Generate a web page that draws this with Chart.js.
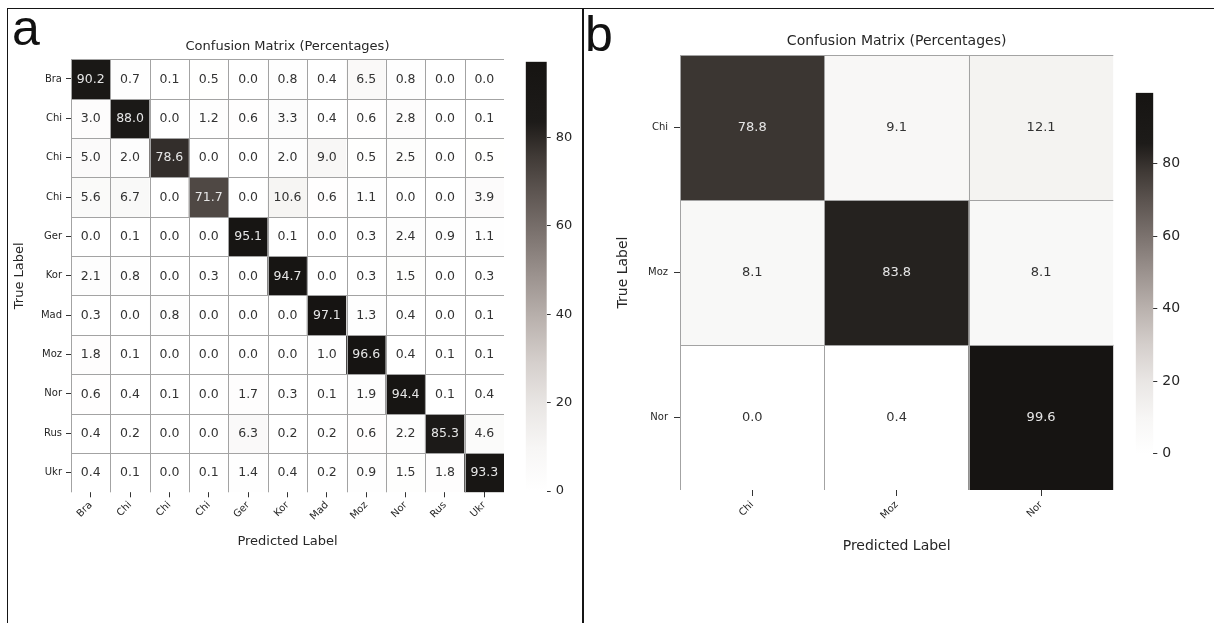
<!DOCTYPE html>
<html>
<head>
<meta charset="utf-8">
<script src="https://cdn.jsdelivr.net/npm/chart.js@4.4.1/dist/chart.umd.min.js"></script>
<style>
  html, body { margin: 0; padding: 0; background: #fff; }
  #page { position: relative; width: 1214px; height: 623px; overflow: hidden; background: #fff; }
  #page canvas { position: absolute; top: 0; }
  .rule { position: absolute; background: #151515; }
  .tag { position: absolute; font-family: 'Liberation Sans', Arial, sans-serif; font-size: 50px; line-height: 50px; color: #111; }
</style>
</head>
<body>
<div id="page">
  <div class="rule" style="left:6.5px; top:7.5px; width:1208px; height:1.5px"></div>
  <div class="rule" style="left:6.5px; top:7.5px; width:1.5px; height:616px"></div>
  <div class="rule" style="left:582px; top:7.5px; width:1.5px; height:616px"></div>
  <div class="tag" style="left:12px; top:3px">a</div>
  <div class="tag" style="left:585px; top:9px">b</div>
  <canvas id="heatA" width="520" height="623" style="left:0px"></canvas>
  <canvas id="barA" width="60" height="623" style="left:520px"></canvas>
  <canvas id="heatB" width="545" height="623" style="left:583px"></canvas>
  <canvas id="barB" width="86" height="623" style="left:1128px"></canvas>
</div>
<script>
// ---- Panel a: 11-class confusion matrix (row = true class, column = predicted class, %)
const classesA = ['Bra', 'Chi', 'Chi', 'Chi', 'Ger', 'Kor', 'Mad', 'Moz', 'Nor', 'Rus', 'Ukr'];
const rowBra  = [90.2, 0.7, 0.1, 0.5, 0.0, 0.8, 0.4, 6.5, 0.8, 0.0, 0.0];
const rowChi1 = [3.0, 88.0, 0.0, 1.2, 0.6, 3.3, 0.4, 0.6, 2.8, 0.0, 0.1];
const rowChi2 = [5.0, 2.0, 78.6, 0.0, 0.0, 2.0, 9.0, 0.5, 2.5, 0.0, 0.5];
const rowChi3 = [5.6, 6.7, 0.0, 71.7, 0.0, 10.6, 0.6, 1.1, 0.0, 0.0, 3.9];
const rowGer  = [0.0, 0.1, 0.0, 0.0, 95.1, 0.1, 0.0, 0.3, 2.4, 0.9, 1.1];
const rowKor  = [2.1, 0.8, 0.0, 0.3, 0.0, 94.7, 0.0, 0.3, 1.5, 0.0, 0.3];
const rowMad  = [0.3, 0.0, 0.8, 0.0, 0.0, 0.0, 97.1, 1.3, 0.4, 0.0, 0.1];
const rowMoz  = [1.8, 0.1, 0.0, 0.0, 0.0, 0.0, 1.0, 96.6, 0.4, 0.1, 0.1];
const rowNor  = [0.6, 0.4, 0.1, 0.0, 1.7, 0.3, 0.1, 1.9, 94.4, 0.1, 0.4];
const rowRus  = [0.4, 0.2, 0.0, 0.0, 6.3, 0.2, 0.2, 0.6, 2.2, 85.3, 4.6];
const rowUkr  = [0.4, 0.1, 0.0, 0.1, 1.4, 0.4, 0.2, 0.9, 1.5, 1.8, 93.3];
const matrixA = [rowBra, rowChi1, rowChi2, rowChi3, rowGer, rowKor, rowMad, rowMoz, rowNor, rowRus, rowUkr];

// ---- Panel b: 3-class confusion matrix
const classesB = ['Chi', 'Moz', 'Nor'];
const rowChiB = [78.8, 9.1, 12.1];
const rowMozB = [8.1, 83.8, 8.1];
const rowNorB = [0.0, 0.4, 99.6];
const matrixB = [rowChiB, rowMozB, rowNorB];

// Colour bar tick values
const colorbarTicks = [0, 20, 40, 60, 80];

const chartTitle = 'Confusion Matrix (Percentages)';
const xTitle = 'Predicted Label';
const yTitle = 'True Label';

// Warm grey colour map: white at 0, near-black at the maximum
const cmapStops = [
  [0.00, [255, 255, 255]],
  [0.10, [247, 246, 245]],
  [0.20, [233, 230, 228]],
  [0.30, [213, 207, 204]],
  [0.40, [186, 178, 174]],
  [0.50, [156, 147, 143]],
  [0.60, [124, 115, 111]],
  [0.70, [92, 84, 80]],
  [0.78, [64, 58, 54]],
  [0.83, [42, 38, 35]],
  [0.86, [29, 27, 25]],
  [1.00, [22, 20, 18]]
];

function cmapRGB(t) {
  t = Math.max(0, Math.min(1, t));
  for (let i = 1; i < cmapStops.length; i++) {
    const [t1, c1] = cmapStops[i];
    const [t0, c0] = cmapStops[i - 1];
    if (t <= t1) {
      const f = (t - t0) / (t1 - t0);
      return c0.map((v, k) => Math.round(v + (c1[k] - v) * f));
    }
  }
  return cmapStops[cmapStops.length - 1][1];
}
const rgbStr = c => `rgb(${c[0]},${c[1]},${c[2]})`;

Chart.defaults.font.family = "'DejaVu Sans', sans-serif";
Chart.defaults.color = '#262626';

// Draws cell separators and the value annotation in each cell
const cellPlugin = {
  id: 'cellAnnotations',
  afterDatasetsDraw(chart, args, opts) {
    const { ctx, chartArea: area, scales: { y } } = chart;
    ctx.save();
    ctx.strokeStyle = opts.lineColor;
    ctx.lineWidth = 1;
    ctx.beginPath();
    chart.getDatasetMeta(0).data.forEach(bar => {
      const px = Math.round(bar.x - bar.width / 2) + 0.5;
      ctx.moveTo(px, area.top);
      ctx.lineTo(px, area.bottom);
    });
    chart.data.datasets.forEach((ds, r) => {
      const py = Math.round(y.getPixelForValue(r)) + 0.5;
      ctx.moveTo(area.left, py);
      ctx.lineTo(area.right, py);
    });
    ctx.stroke();

    ctx.font = `${opts.fontSize}px 'DejaVu Sans', sans-serif`;
    ctx.textAlign = 'center';
    ctx.textBaseline = 'middle';
    chart.data.datasets.forEach((ds, r) => {
      chart.getDatasetMeta(r).data.forEach((bar, c) => {
        const v = ds.values[c];
        const rgb = cmapRGB(v / opts.vmax);
        const lum = (0.299 * rgb[0] + 0.587 * rgb[1] + 0.114 * rgb[2]) / 255;
        ctx.fillStyle = lum < 0.45 ? '#e6e6e6' : '#333333';
        ctx.fillText(v.toFixed(1), bar.x, (bar.y + bar.base) / 2 + 0.5);
      });
    });
    ctx.restore();
  }
};

function heatmap(id, rows, matrix, geo) {
  const n = rows.length;
  const vmax = Math.max(...matrix.flat());
  const datasets = matrix.map((row, r) => ({
    data: row.map(() => [r, r + 1]),
    values: row,
    backgroundColor: row.map(v => rgbStr(cmapRGB(v / vmax))),
    borderWidth: 0,
    borderSkipped: false,
    barPercentage: 1,
    categoryPercentage: 1,
    grouped: false
  }));
  return new Chart(document.getElementById(id), {
    type: 'bar',
    data: { labels: rows, datasets },
    plugins: [cellPlugin],
    options: {
      responsive: false,
      animation: false,
      devicePixelRatio: 1,
      layout: { padding: { left: 0, right: geo.padRight, top: 0, bottom: 0 } },
      plugins: {
        legend: { display: false },
        tooltip: { enabled: false },
        title: {
          display: true, text: chartTitle, fullSize: false, color: '#262626',
          font: { size: geo.titleSize, weight: 'normal', lineHeight: 1.2 },
          padding: { top: geo.titleTop, bottom: geo.titleBottom }
        },
        cellAnnotations: { lineColor: '#a3a3a3', fontSize: geo.cellFont, vmax }
      },
      scales: {
        x: {
          type: 'category',
          offset: true,
          afterFit: s => { s.height = geo.xHeight; },
          grid: { display: true, drawOnChartArea: false, drawTicks: true, offset: false, tickLength: geo.tickLen, color: '#333' },
          border: { display: false },
          ticks: { minRotation: 45, maxRotation: 45, autoSkip: false, padding: geo.xTickPad, font: { size: geo.tickFont }, color: '#262626' },
          title: { display: true, text: xTitle, color: '#262626', font: { size: geo.axisFont, lineHeight: 1.2 }, padding: { top: 0, bottom: geo.xTitlePad } }
        },
        y: {
          type: 'linear',
          min: 0, max: n, reverse: true,
          afterBuildTicks: s => { s.ticks = rows.map((_, i) => ({ value: i + 0.5 })); },
          afterFit: s => { s.width = geo.yWidth; },
          grid: { display: true, drawOnChartArea: false, drawTicks: true, tickLength: geo.tickLen, color: '#333' },
          border: { display: false },
          ticks: { autoSkip: false, padding: geo.yTickPad, font: { size: geo.tickFont }, color: '#262626',
                   callback: (v, i) => rows[i] },
          title: { display: true, text: yTitle, color: '#262626', font: { size: geo.axisFont, lineHeight: 1.2 }, padding: { top: geo.yTitlePad, bottom: 0 } }
        }
      }
    }
  });
}

function colorbar(id, vmax, geo) {
  return new Chart(document.getElementById(id), {
    type: 'bar',
    data: {
      labels: [''],
      datasets: [{
        data: [[0, vmax]],
        backgroundColor: ctx => {
          const chart = ctx.chart;
          if (!chart.chartArea) return '#888';
          const ys = chart.scales.y;
          const g = chart.ctx.createLinearGradient(0, ys.getPixelForValue(0), 0, ys.getPixelForValue(vmax));
          cmapStops.forEach(([t, c]) => g.addColorStop(t, rgbStr(c)));
          return g;
        },
        borderWidth: 0,
        barPercentage: 1,
        categoryPercentage: 1
      }]
    },
    options: {
      responsive: false,
      animation: false,
      devicePixelRatio: 1,
      layout: { padding: { left: geo.left, right: 0, top: geo.top, bottom: geo.bottom } },
      plugins: { legend: { display: false }, tooltip: { enabled: false } },
      scales: {
        x: { display: false },
        y: {
          position: 'right', min: 0, max: vmax,
          afterBuildTicks: s => { s.ticks = colorbarTicks.map(v => ({ value: v })); },
          afterFit: s => { s.width = geo.axisWidth; },
          grid: { display: true, drawOnChartArea: false, drawTicks: true, tickLength: 4, color: '#333' },
          border: { display: false },
          ticks: { padding: 5, font: { size: geo.font }, color: '#262626' }
        }
      }
    }
  });
}

heatmap('heatA', classesA, matrixA, {
  padRight: 16, titleSize: 13, titleTop: 38.9, titleBottom: 4.8,
  xHeight: 130.7, yWidth: 71, tickLen: 5, xTickPad: 2, yTickPad: 4, tickFont: 10,
  axisFont: 13, xTitlePad: 73.2, yTitlePad: 12.2, cellFont: 12.5
});
colorbar('barA', Math.max(...matrixA.flat()), { left: 5.7, top: 61.7, bottom: 132, axisWidth: 33.3, font: 13 });

heatmap('heatB', classesB, matrixB, {
  padRight: 14.7, titleSize: 14, titleTop: 32.6, titleBottom: 5.6,
  xHeight: 133, yWidth: 97, tickLen: 6, xTickPad: 3, yTickPad: 6, tickFont: 10,
  axisFont: 14, xTitlePad: 68.6, yTitlePad: 32.3, cellFont: 13
});
colorbar('barB', Math.max(...matrixB.flat()), { left: 7.7, top: 92.8, bottom: 169.3, axisWidth: 60.7, font: 14 });
</script>
</body>
</html>
